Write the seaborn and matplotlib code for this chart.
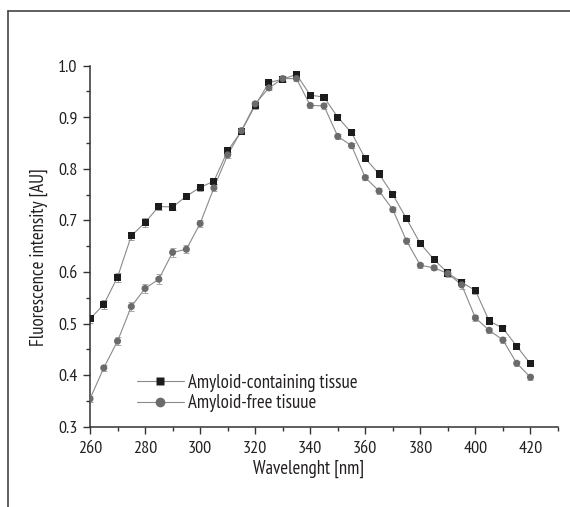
import numpy as np
import pandas as pd
import matplotlib
matplotlib.use("Agg")
import matplotlib.pyplot as plt
from matplotlib.lines import Line2D
from matplotlib.ticker import MultipleLocator
import seaborn as sns

wavelength = [260, 265, 270, 275, 280, 285, 290, 295, 300, 305, 310, 315, 320, 325, 330, 335, 340,
              345, 350, 355, 360, 365, 370, 375, 380, 385, 390, 395, 400, 405, 410, 415, 420]
amyloid_containing = [0.509, 0.537, 0.590, 0.670, 0.696, 0.727, 0.726, 0.747, 0.764, 0.776, 0.835,
                      0.873, 0.923, 0.967, 0.974, 0.983, 0.943, 0.939, 0.900, 0.870, 0.820, 0.790,
                      0.750, 0.703, 0.655, 0.624, 0.598, 0.580, 0.564, 0.505, 0.491, 0.456, 0.422]
amyloid_free = [0.354, 0.414, 0.466, 0.533, 0.568, 0.586, 0.638, 0.644, 0.694, 0.763, 0.827,
                0.874, 0.926, 0.957, 0.975, 0.975, 0.923, 0.922, 0.863, 0.845, 0.783, 0.757,
                0.721, 0.660, 0.613, 0.608, 0.597, 0.575, 0.511, 0.487, 0.468, 0.423, 0.396]
err_containing = [0.008, 0.008, 0.009, 0.008, 0.008, 0.007, 0.006, 0.006, 0.006, 0.006, 0.006,
                  0.006, 0.006, 0.005, 0.005, 0.005, 0.005, 0.005, 0.005, 0.005, 0.005, 0.005,
                  0.005, 0.005, 0.005, 0.005, 0.005, 0.006, 0.006, 0.005, 0.005, 0.005, 0.005]
err_free = [0.006, 0.006, 0.007, 0.008, 0.009, 0.010, 0.008, 0.008, 0.007, 0.006, 0.006,
            0.006, 0.006, 0.005, 0.005, 0.005, 0.005, 0.005, 0.005, 0.005, 0.005, 0.005,
            0.005, 0.005, 0.005, 0.005, 0.006, 0.008, 0.006, 0.005, 0.005, 0.005, 0.005]
series_names = ["Amyloid-containing tissue", "Amyloid-free tisuue"]
x_ticks = [260, 280, 300, 320, 340, 360, 380, 400, 420]
y_ticks = [0.3, 0.4, 0.5, 0.6, 0.7, 0.8, 0.9, 1.0]

sns.set_style("white")
plt.rcParams["font.family"] = ["PT Sans Narrow", "Roboto Condensed", "Archivo Narrow",
                               "Fira Sans Condensed", "DejaVu Sans"]

df = pd.DataFrame({
    "Wavelength": wavelength * 2,
    "Intensity": amyloid_containing + amyloid_free,
    "Series": [series_names[0]] * len(wavelength) + [series_names[1]] * len(wavelength),
})

fig = plt.figure(figsize=(5.70, 5.07), dpi=100)
ax = fig.add_axes([90 / 570, 1 - 426.7 / 507, (558 - 90) / 570, (426.7 - 65.7) / 507])

line_col = "#8a8a8a"
text_col = "#231f20"
ax.errorbar(wavelength, amyloid_containing, yerr=err_containing, fmt="none",
            ecolor="#9a9a9a", elinewidth=0.7, capsize=2.2, capthick=0.7, zorder=2)
ax.errorbar(wavelength, amyloid_free, yerr=err_free, fmt="none",
            ecolor="#aaaaaa", elinewidth=0.7, capsize=2.2, capthick=0.7, zorder=2)

sns.lineplot(data=df, x="Wavelength", y="Intensity", units="Series", estimator=None,
             color=line_col, linewidth=0.8, ax=ax, legend=False, zorder=3)
sns.scatterplot(data=df, x="Wavelength", y="Intensity", hue="Series", style="Series",
                palette={series_names[0]: "#1c1c1c", series_names[1]: "#6b6b6b"},
                markers={series_names[0]: "s", series_names[1]: "o"},
                s=26, edgecolor="none", linewidth=0, ax=ax, legend=False, zorder=4)

handles = [
    Line2D([], [], color=line_col, linewidth=0.8, marker="s", markersize=5.2,
           markerfacecolor="#1c1c1c", markeredgecolor="none"),
    Line2D([], [], color=line_col, linewidth=0.8, marker="o", markersize=7.0,
           markerfacecolor="#6b6b6b", markeredgecolor="none"),
]
leg = ax.legend(handles, series_names, loc="lower left", bbox_to_anchor=(0.1, 0.04),
                frameon=False, fontsize=13.5, handlelength=2.5, handletextpad=0.25,
                labelspacing=0.12, borderaxespad=0, borderpad=0)
for t in leg.get_texts():
    t.set_color(text_col)

ax.set_xlim(260, 430)
ax.set_ylim(0.3, 1.0)
ax.set_xticks(x_ticks)
ax.set_yticks(y_ticks)
ax.set_xticklabels([str(v) for v in x_ticks])
ax.set_yticklabels([f"{v:.1f}" for v in y_ticks])
ax.xaxis.set_minor_locator(MultipleLocator(10))
ax.yaxis.set_minor_locator(MultipleLocator(0.05))
ax.tick_params(which="major", direction="out", length=5, width=1.0, color="#333333",
               labelsize=13, labelcolor=text_col, bottom=True, left=True)
ax.tick_params(axis="y", which="major", pad=4)
ax.tick_params(axis="x", which="major", pad=5)
ax.tick_params(which="minor", direction="out", length=3, width=1.0, color="#333333",
               bottom=True, left=True)
for side in ["top", "right"]:
    ax.spines[side].set_visible(False)
for side in ["left", "bottom"]:
    ax.spines[side].set_color("#333333")
    ax.spines[side].set_linewidth(1.1)

ax.set_xlabel("Wavelenght [nm]", fontsize=13.5, color=text_col, labelpad=2.5)
ax.set_ylabel("Fluorescence intensity [AU]", fontsize=13.5, color=text_col, labelpad=7)
ax.xaxis.label.set_x(0.466)
ax.yaxis.label.set_y(0.469)

fx = 8.3 / 570
fy = 1 - 10.7 / 507
fig.add_artist(Line2D([fx, 1.0], [fy, fy], transform=fig.transFigure, color="#444444", linewidth=1.2))
fig.add_artist(Line2D([fx, fx], [0.0, fy], transform=fig.transFigure, color="#444444", linewidth=1.2))

fig.savefig("out.png", dpi=100, facecolor="white")
